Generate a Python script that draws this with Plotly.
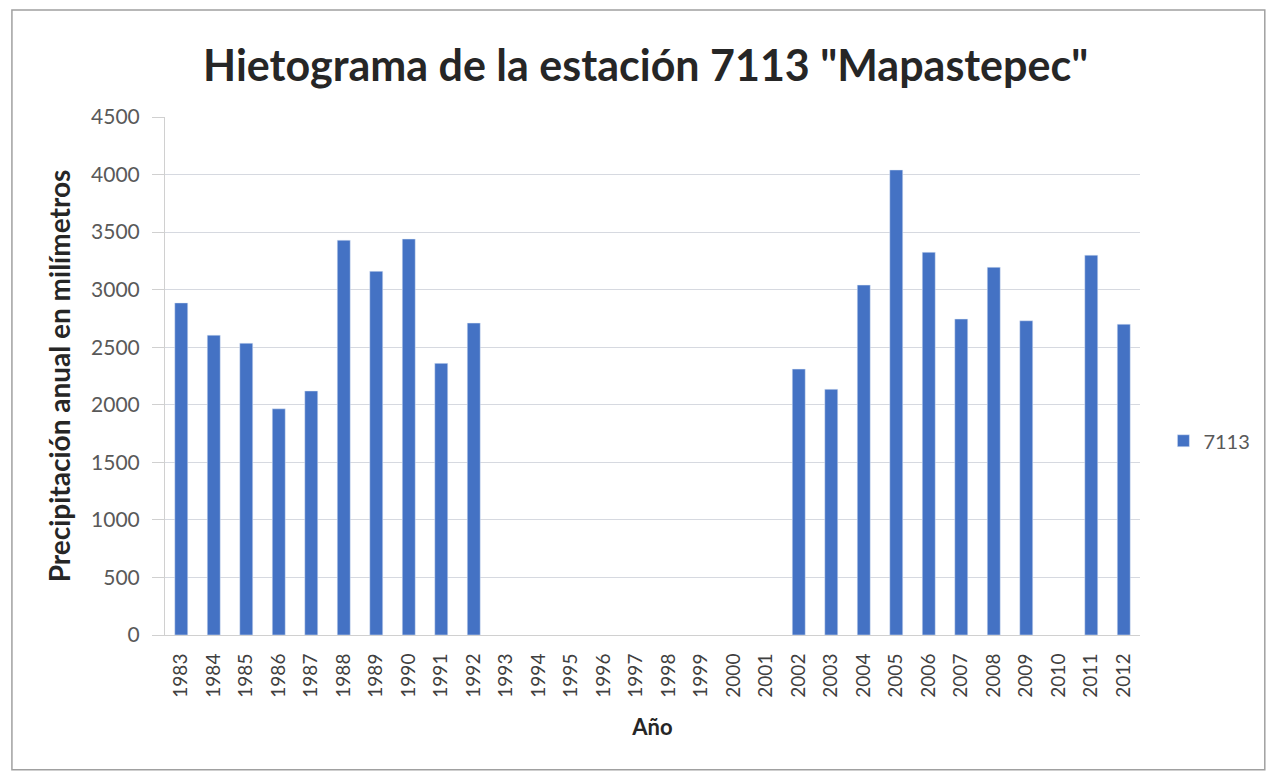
import plotly.graph_objects as go

years = [str(y) for y in range(1983, 2013)]
precip = [2885, 2605, 2535, 1965, 2120, 3430, 3160, 3440, 2360, 2710,
          None, None, None, None, None, None, None, None, None,
          2310, 2135, 3040, 4040, 3325, 2745, 3195, 2730, None, 3300, 2700]
series_name = "7113"
title = 'Hietograma de la estación 7113 "Mapastepec"'
x_title = "Año"
y_title = "Precipitación anual en milímetros"

FONT = "Lato"

fig = go.Figure()
fig.add_trace(go.Bar(x=years, y=precip, name=series_name, marker_color="#4472C4",
                     showlegend=True))

fig.update_layout(
    width=1271, height=773,
    margin=dict(l=165, r=131, t=117, b=138, autoexpand=False),
    paper_bgcolor="white", plot_bgcolor="white",
    bargap=0.6,
    title=dict(text="<b>" + title + "</b>", x=0.508, xanchor="center", y=0.915, yanchor="middle",
               font=dict(family=FONT, size=43, color="#262626")),
    font=dict(family=FONT, color="#595959"),
    showlegend=True,
    legend=dict(x=1.024, y=0.375, xanchor="left", yanchor="middle",
                font=dict(size=20, color="#595959"), itemwidth=30),
    xaxis=dict(type="category", tickangle=-90, tickfont=dict(size=19, color="#404040"),
               showline=True, linecolor="#d0d0d0", ticks="", showgrid=False,
               ticklabelstandoff=10,
               title=dict(text="<b>" + x_title + "</b>", font=dict(size=22, color="#262626"), standoff=22)),
    yaxis=dict(range=[0, 4500], dtick=500, tickfont=dict(size=21, color="#595959"),
               showgrid=True, gridcolor="#d6d9e0", gridwidth=1,
               showline=True, linecolor="#d0d0d0", ticks="outside", ticklen=12, tickcolor="#d0d0d0",
               ticklabelstandoff=8, zeroline=False,
               title=dict(text="<b>" + y_title + "</b>", font=dict(size=28, color="#262626"), standoff=12)),
    shapes=[dict(type="rect", xref="paper", yref="paper", x0=-0.157, x1=1.128, y0=-0.26, y1=1.2066,
                 line=dict(color="#a0a0a0", width=1.5), fillcolor="rgba(0,0,0,0)", layer="below")],
)

fig.write_html("out.html", config={"displayModeBar": False},
               post_script="document.body.style.margin='0';")
